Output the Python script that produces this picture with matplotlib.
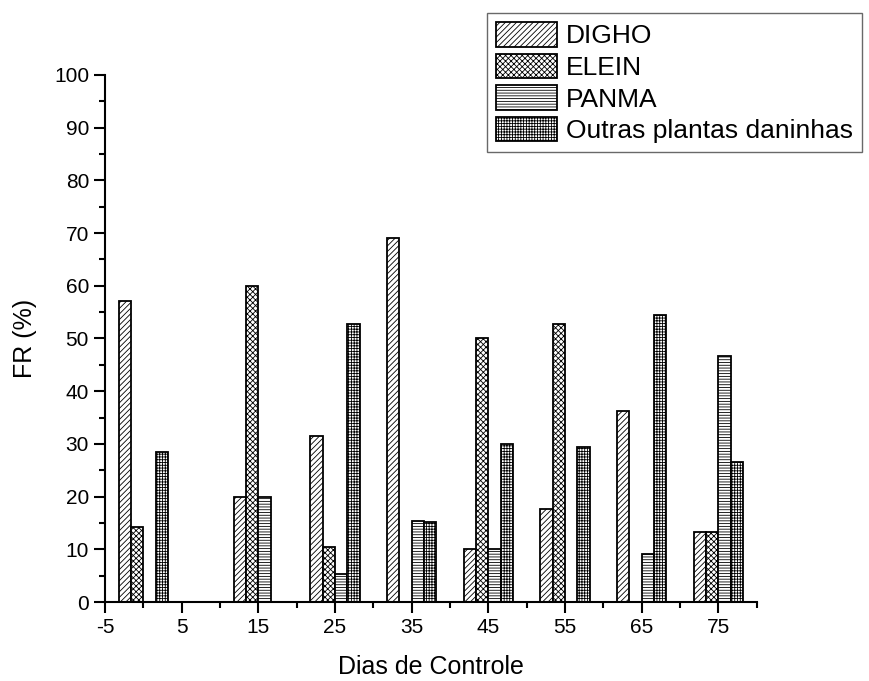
import numpy as np
import matplotlib.pyplot as plt
from matplotlib.ticker import MultipleLocator

plt.rcParams['font.family'] = ['Liberation Sans', 'DejaVu Sans']
plt.rcParams['hatch.linewidth'] = 0.6
plt.rcParams['axes.unicode_minus'] = False

# data to plot
dias = [0, 15, 25, 35, 45, 55, 65, 75]
digho = [57.1, 20.0, 31.5, 69.1, 10.0, 17.6, 36.3, 13.3]
elein = [14.2, 60.0, 10.5, 0, 50.0, 52.8, 0, 13.3]
panma = [0, 20.0, 5.3, 15.4, 10.0, 0, 9.1, 46.6]
outras = [28.5, 0, 52.7, 15.2, 30.0, 29.4, 54.5, 26.6]
labels = ['DIGHO', 'ELEIN', 'PANMA', 'Outras plantas daninhas']
hatches = ['//////', 'xxxxxx', '------', '++++++']

fig = plt.figure(figsize=(8.69, 6.81), dpi=100)
ax = fig.add_axes([0.1208, 0.116, 0.750, 0.774])

index = np.array(dias, dtype=float)
bar_width = 1.6
series = [digho, elein, panma, outras]
handles = []
for i, vals in enumerate(series):
    offs = (i - 1.5) * bar_width
    b = ax.bar(index + offs, vals, bar_width, color='white', edgecolor='black',
               linewidth=1.3, hatch=hatches[i], label=labels[i])
    handles.append(b)

ax.set_xlim(-5, 80)
ax.set_ylim(0, 100)
ax.set_xticks([-5, 5, 15, 25, 35, 45, 55, 65, 75])
ax.xaxis.set_minor_locator(MultipleLocator(5))
ax.yaxis.set_major_locator(MultipleLocator(10))
ax.yaxis.set_minor_locator(MultipleLocator(5))
for s in ['top', 'right']:
    ax.spines[s].set_visible(False)
for s in ['left', 'bottom']:
    ax.spines[s].set_linewidth(1.5)
ax.tick_params(which='major', length=8, width=1.5, labelsize=15, direction='out')
ax.tick_params(which='minor', length=4, width=1.5, direction='out')

ax.set_xlabel('Dias de Controle', fontsize=18, labelpad=13)
ax.set_ylabel('FR (%)', fontsize=18, labelpad=12)

leg = fig.legend(handles=handles, labels=labels, loc='upper left',
                 bbox_to_anchor=(487 / 869, 1 - 13 / 681), fontsize=19,
                 frameon=True, fancybox=False, edgecolor='#444444',
                 handlelength=2.3, handleheight=1.05, handletextpad=0.35,
                 labelspacing=0.2, borderpad=0.35, borderaxespad=0)
leg.get_frame().set_linewidth(1.0)

plt.savefig('out.png', dpi=100)
